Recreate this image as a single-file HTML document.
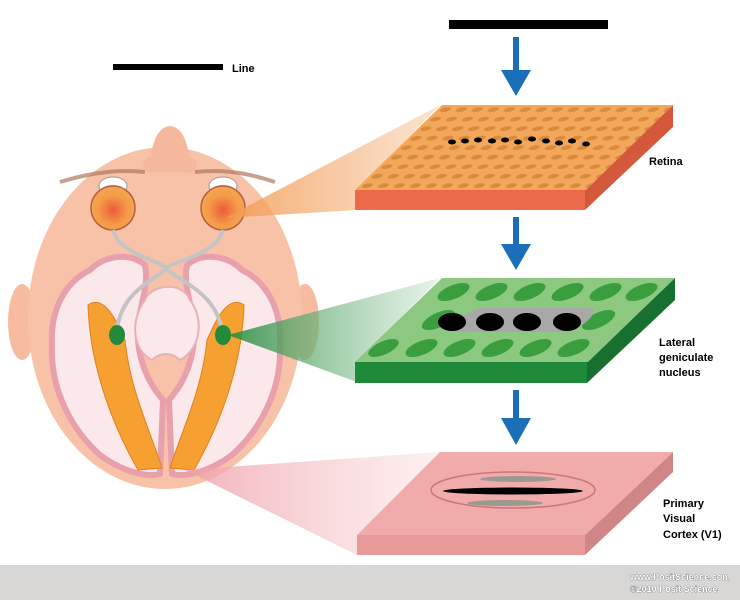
<!DOCTYPE html>
<html><head><meta charset="utf-8"><style>
html,body{margin:0;padding:0;background:#fff;}
svg{display:block;}
text{font-family:"Liberation Sans",Arial,sans-serif;font-weight:bold;}
</style></head><body>
<svg width="740" height="600" viewBox="0 0 740 600" xmlns="http://www.w3.org/2000/svg">
<defs>
<radialGradient id="eye" cx="0.5" cy="0.55" r="0.55"><stop offset="0" stop-color="#ee5a3a"/><stop offset="0.6" stop-color="#f39a48"/><stop offset="1" stop-color="#f5a850"/></radialGradient>
<linearGradient id="beamO" x1="0" x2="1"><stop offset="0" stop-color="#f29a50" stop-opacity="0.85"/><stop offset="1" stop-color="#f8d0b0" stop-opacity="0.6"/></linearGradient>
<linearGradient id="beamG" x1="0" x2="1"><stop offset="0" stop-color="#1f8a3a" stop-opacity="0.85"/><stop offset="1" stop-color="#cfe6d2" stop-opacity="0.5"/></linearGradient>
<linearGradient id="beamP" x1="0" x2="1"><stop offset="0" stop-color="#eea0a8" stop-opacity="0.8"/><stop offset="1" stop-color="#fbe0e2" stop-opacity="0.5"/></linearGradient>
<pattern id="ret" width="16" height="9.5" patternUnits="userSpaceOnUse"><rect width="16" height="9.5" fill="#f3a75a"/><ellipse cx="8" cy="4.7" rx="5" ry="2.4" fill="#d98a3c"/></pattern>
</defs>

<rect x="0" y="565" width="740" height="35" fill="#d9d6d6"/>
<text x="630" y="580" font-size="9" fill="#fff" stroke="#666" stroke-width="0.6" paint-order="stroke">www.PositScience.com</text>
<text x="630" y="592" font-size="9" fill="#fff" stroke="#666" stroke-width="0.6" paint-order="stroke">©2010 Posit Science</text>

<rect x="113" y="64" width="110" height="6" fill="#000"/>
<text x="232" y="72" font-size="11" fill="#000">Line</text>
<rect x="449" y="20" width="159" height="9" fill="#000"/>

<g fill="#1a6fb8">
<rect x="513" y="37" width="6" height="36"/><polygon points="501,70 531,70 516,96"/>
<rect x="513" y="217" width="6" height="30"/><polygon points="501,244 531,244 516,270"/>
<rect x="513" y="390" width="6" height="30"/><polygon points="501,418 531,418 516,445"/>
</g>

<!-- head -->
<ellipse cx="22" cy="322" rx="14" ry="38" fill="#f7bca0"/>
<ellipse cx="305" cy="322" rx="14" ry="38" fill="#f7bca0"/>
<ellipse cx="165" cy="318" rx="137" ry="171" fill="#f8c2a8"/>
<path d="M150,172 C150,150 155,127 170,126 C185,127 190,150 190,172 Z" fill="#f6b89c"/>
<ellipse cx="152" cy="165" rx="9" ry="8" fill="#f6b89c"/>
<ellipse cx="188" cy="165" rx="9" ry="8" fill="#f6b89c"/>
<path d="M60,182 C100,170 125,170 145,172 M195,172 C215,170 240,170 275,182" stroke="#b07860" stroke-width="4" fill="none" opacity="0.7"/>
<g>
<ellipse cx="113" cy="186" rx="14" ry="9" fill="#fff" stroke="#999" stroke-width="1"/>
<ellipse cx="113" cy="188" rx="9" ry="3" fill="#7cc8e8"/>
<circle cx="113" cy="208" r="22" fill="url(#eye)" stroke="#b86040" stroke-width="1.5"/>
<ellipse cx="223" cy="186" rx="14" ry="9" fill="#fff" stroke="#999" stroke-width="1"/>
<ellipse cx="223" cy="188" rx="9" ry="3" fill="#7cc8e8"/>
<circle cx="223" cy="208" r="22" fill="url(#eye)" stroke="#b86040" stroke-width="1.5"/>
</g>
<path d="M145,265 C130,252 105,255 90,270 C65,282 50,310 52,345 C50,390 72,430 100,455 C120,470 145,478 160,474 L163,400 C150,385 140,365 138,340 C136,310 150,290 145,265 Z" fill="#fbe8ea" stroke="#e8a0ac" stroke-width="6" stroke-linejoin="round"/>
<path d="M187,265 C202,252 227,255 242,270 C267,282 282,310 280,345 C282,390 260,430 232,455 C212,470 187,478 172,474 L169,400 C182,385 192,365 194,340 C196,310 182,290 187,265 Z" fill="#fbe8ea" stroke="#e8a0ac" stroke-width="6" stroke-linejoin="round"/>
<path d="M145,300 C150,285 182,280 190,300 C205,320 200,350 180,360 C172,352 160,352 152,360 C132,350 130,320 145,300 Z" fill="#fbe8ea" stroke="#e8b0b8" stroke-width="2"/>
<path d="M88,305 C98,298 108,305 118,325 L125,340 C130,390 150,430 162,468 L138,470 C115,430 90,370 88,305 Z" fill="#f5a030" stroke="#e08020" stroke-width="1"/>
<path d="M244,305 C234,298 224,305 214,325 L207,340 C202,390 182,430 170,468 L194,470 C217,430 242,370 244,305 Z" fill="#f5a030" stroke="#e08020" stroke-width="1"/>
<path d="M113,230 C120,255 160,260 166,268 C175,280 215,290 222,330" stroke="#c4c4c4" stroke-width="4" fill="none"/>
<path d="M223,230 C216,255 176,260 166,268 C157,280 121,290 117,330" stroke="#c4c4c4" stroke-width="4" fill="none"/>
<ellipse cx="117" cy="335" rx="8" ry="10" fill="#228a3a"/>
<ellipse cx="223" cy="335" rx="8" ry="10" fill="#228a3a"/>

<!-- beams over head -->
<polygon points="225,218 440,105 357,190 357,210" fill="url(#beamO)"/>
<polygon points="228,335 440,278 357,362 357,382" fill="url(#beamG)"/>
<polygon points="185,470 440,452 357,535 357,555" fill="url(#beamP)"/>

<!-- Retina slab -->
<polygon points="355,190 585,190 585,210 355,210" fill="#ec6a4a"/>
<polygon points="585,190 673,105 673,127 585,210" fill="#d4583c"/>
<g transform="matrix(1,0,-1.0235,1,442,105)">
<rect width="231" height="85" fill="url(#ret)"/>
</g>
<g fill="#000">
<ellipse cx="452" cy="142" rx="4" ry="2.5"/><ellipse cx="465" cy="141" rx="4" ry="2.5"/><ellipse cx="478" cy="140" rx="4" ry="2.5"/><ellipse cx="492" cy="141" rx="4" ry="2.5"/><ellipse cx="505" cy="140" rx="4" ry="2.5"/><ellipse cx="518" cy="142" rx="4" ry="2.5"/><ellipse cx="532" cy="139" rx="4" ry="2.5"/><ellipse cx="546" cy="141" rx="4" ry="2.5"/><ellipse cx="559" cy="143" rx="4" ry="2.5"/><ellipse cx="572" cy="141" rx="4" ry="2.5"/><ellipse cx="586" cy="144" rx="4" ry="2.5"/>
</g>
<text x="649" y="165" font-size="11" fill="#000">Retina</text>

<!-- LGN slab -->
<polygon points="355,362 587,362 587,383 355,383" fill="#1f8a3a"/>
<polygon points="587,362 675,278 675,300 587,383" fill="#177030"/>
<g transform="matrix(1,0,-1.0357,1,442,278)">
<rect width="233" height="84" fill="#8cc880"/>
<g fill="#3a9e3e">
<ellipse cx="26" cy="14" rx="13" ry="9"/><ellipse cx="64" cy="14" rx="13" ry="9"/><ellipse cx="102" cy="14" rx="13" ry="9"/><ellipse cx="140" cy="14" rx="13" ry="9"/><ellipse cx="178" cy="14" rx="13" ry="9"/><ellipse cx="214" cy="14" rx="13" ry="9"/>
<ellipse cx="40" cy="42" rx="13" ry="10"/><ellipse cx="200" cy="42" rx="13" ry="10"/>
<ellipse cx="52" cy="70" rx="13" ry="9"/><ellipse cx="90" cy="70" rx="13" ry="9"/><ellipse cx="128" cy="70" rx="13" ry="9"/><ellipse cx="166" cy="70" rx="13" ry="9"/><ellipse cx="204" cy="70" rx="13" ry="9"/><ellipse cx="14" cy="70" rx="12" ry="9"/>
</g>
<rect x="60" y="30" width="130" height="24" rx="12" fill="#a8a8a8"/>
</g>
<g fill="#000">
<ellipse cx="452" cy="322" rx="14" ry="9"/><ellipse cx="490" cy="322" rx="14" ry="9"/><ellipse cx="527" cy="322" rx="14" ry="9"/><ellipse cx="567" cy="322" rx="14" ry="9"/>
</g>
<text x="659" y="346" font-size="11" fill="#000">Lateral</text>
<text x="659" y="361" font-size="11" fill="#000">geniculate</text>
<text x="659" y="376" font-size="11" fill="#000">nucleus</text>

<!-- Cortex slab -->
<polygon points="357,535 585,535 585,555 357,555" fill="#e89a9a"/>
<polygon points="585,535 673,452 673,472 585,555" fill="#d08686"/>
<polygon points="440,452 673,452 585,535 357,535" fill="#f2abab"/>
<ellipse cx="513" cy="490" rx="82" ry="18" fill="none" stroke="#c87878" stroke-width="1.5"/>
<ellipse cx="518" cy="479" rx="38" ry="3" fill="#9a9a90"/>
<ellipse cx="513" cy="491" rx="70" ry="3.5" fill="#000"/>
<ellipse cx="505" cy="503" rx="38" ry="3" fill="#9a9a90"/>
<text x="663" y="507" font-size="11" fill="#000">Primary</text>
<text x="663" y="522" font-size="11" fill="#000">Visual</text>
<text x="663" y="538" font-size="11" fill="#000">Cortex (V1)</text>
</svg>
</body></html>
